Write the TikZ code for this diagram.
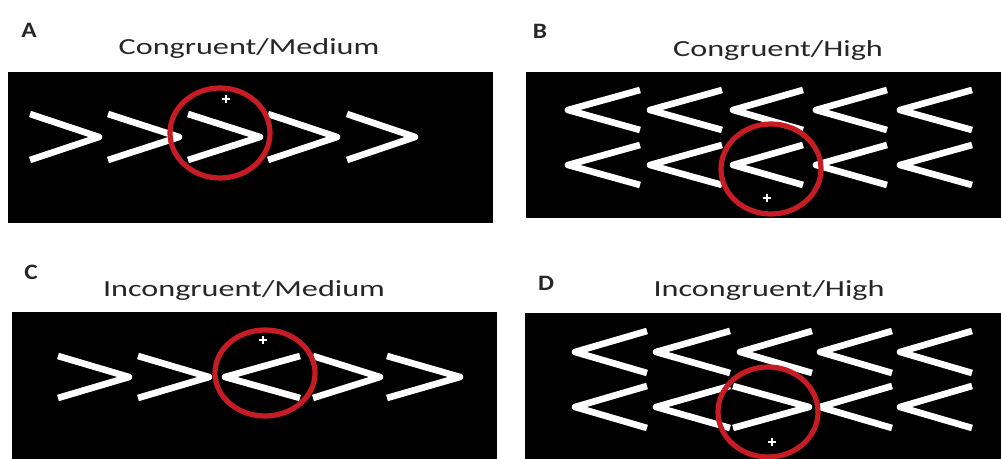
\documentclass[tikz,border=0pt]{standalone}
\usepackage{fontspec}
\usepackage{graphicx}
\setmainfont{Carlito}
\definecolor{ringred}{RGB}{200,28,36}
\definecolor{captiongray}{RGB}{38,38,38}
% wide caption text
\newcommand\widetext[2]{\scalebox{#1}[1]{#2}}
% chevron: open-end x, tip x, centre y, half height
\newcommand\chev[4]{\draw[arrowline] (#1,#3-#4) -- (#2,#3) -- (#1,#3+#4);}
\begin{document}
\begin{tikzpicture}[x=0.5pt,y=-0.5pt,
  panel/.style={fill=black},
  arrowline/.style={draw=white, line width=3.3pt, line join=round},
  ring/.style={draw=ringred, line width=2.6pt},
  fixcross/.style={draw=white, line width=0.6pt},
  title/.style={font=\fontsize{11.5}{12}\selectfont, text=captiongray, anchor=base, inner sep=0pt},
  letter/.style={font=\fontsize{11}{12}\selectfont\bfseries, text=captiongray, inner sep=0pt}]
\useasboundingbox (0,0) rectangle (1001,459);
\fill[white] (0,0) rectangle (1001,459);

% ---------- A: congruent / medium ----------
\node[letter] (la) at (29,30) {\widetext{1.15}{A}};
\node[title] (ta) at (249,55) {\widetext{1.4}{Congruent/Medium}};
\fill[panel] (8,72) rectangle (493,223);
\chev{30}{99}{137}{23}
\chev{108}{179}{137}{23}
\chev{188}{260}{137}{23}
\chev{268}{337}{137}{23}
\chev{347}{415}{137}{23}
\draw[ring] (220,133) ellipse [x radius=50, y radius=45];
\draw[fixcross] (222,99) -- (230,99) (226,95) -- (226,103);

% ---------- B: congruent / high ----------
\node[letter] (lb) at (540,31) {\widetext{1.15}{B}};
\node[title] (tb) at (778,57) {\widetext{1.4}{Congruent/High}};
\fill[panel] (526,72) rectangle (1001,218);
\foreach \yc in {110,165}{
  \chev{640}{568}{\yc}{20}
  \chev{722}{650}{\yc}{20}
  \chev{803}{733}{\yc}{20}
  \chev{887}{816}{\yc}{20}
  \chev{972}{900}{\yc}{20}
}
\draw[ring] (771,169) ellipse [x radius=50, y radius=45];
\draw[fixcross] (763,198) -- (771,198) (767,194) -- (767,202);

% ---------- C: incongruent / medium ----------
\node[letter] (lc) at (31,272) {\widetext{1.15}{C}};
\node[title] (tc) at (244,297) {\widetext{1.4}{Incongruent/Medium}};
\fill[panel] (12,312) rectangle (497,459);
\chev{58}{129}{377}{21}
\chev{138}{209}{377}{21}
\chev{300}{225}{377}{21}
\chev{313}{380}{377}{21}
\chev{387}{460}{377}{21}
\draw[ring] (265,373) ellipse [x radius=50, y radius=43];
\draw[fixcross] (259,340) -- (267,340) (263,336) -- (263,344);

% ---------- D: incongruent / high ----------
\node[letter] (ld) at (546,283) {\widetext{1.15}{D}};
\node[title] (td) at (769,297) {\widetext{1.4}{Incongruent/High}};
\fill[panel] (525,313) rectangle (1001,459);
\chev{647}{575}{352}{21}
\chev{730}{656}{352}{21}
\chev{812}{740}{352}{21}
\chev{892}{820}{352}{21}
\chev{972}{900}{352}{21}
\chev{647}{575}{407}{21}
\chev{730}{656}{407}{21}
\chev{733}{809}{407}{21}
\chev{892}{820}{407}{21}
\chev{972}{900}{407}{21}
\draw[ring] (768,412) ellipse [x radius=50, y radius=45];
\draw[fixcross] (768,442) -- (776,442) (772,438) -- (772,446);
\end{tikzpicture}
\end{document}
